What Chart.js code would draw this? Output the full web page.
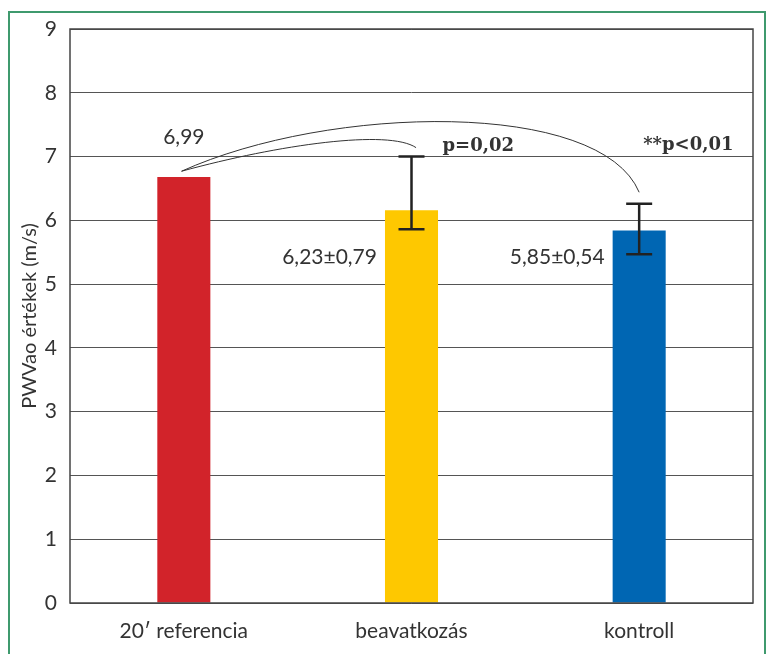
<!DOCTYPE html>
<html>
<head>
<meta charset="utf-8">
<script src="https://cdn.jsdelivr.net/npm/chart.js@4"></script>
<style>
  html, body { margin: 0; padding: 0; background: #fff; }
  #wrap { width: 767px; height: 654px; }
</style>
</head>
<body>
<div id="wrap"><canvas id="pwvChart" width="767" height="654"></canvas></div>
<script>
// chart data
const categories = ['20\u2032 referencia', 'beavatkozás', 'kontroll'];
const barValues = [6.68, 6.16, 5.84];
const barColors = ['#d2232a', '#fec800', '#0066b3'];
const errLow = [null, 5.86, 5.47];
const errHigh = [null, 7.0, 6.26];
const valueLabels = ['6,99', '6,23±0,79', '5,85±0,54'];
const pLabels = [null, 'p=0,02', '**p<0,01'];
const yTicks = [0, 1, 2, 3, 4, 5, 6, 7, 8, 9];

const TEXT = '#333';

// frame + plot border
const framePlugin = {
    id: 'frame',
    beforeDraw(chart) {
        const c = chart.ctx;
        c.save();
        c.strokeStyle = '#3f9a6e';
        c.lineWidth = 2;
        c.strokeRect(9, 12, 756, 660);
        c.restore();
    },
    afterDatasetsDraw(chart) {
        const c = chart.ctx;
        const a = chart.chartArea;
        c.save();
        c.strokeStyle = '#444';
        c.lineWidth = 1.5;
        c.strokeRect(a.left, a.top, a.right - a.left, a.bottom - a.top);
        c.restore();
    }
};

// error bars, curves and text annotations
const annotPlugin = {
    id: 'annot',
    afterDatasetsDraw(chart) {
        const c = chart.ctx;
        const xs = chart.scales.x;
        const ys = chart.scales.y;
        const meta = chart.getDatasetMeta(0);
        const step = xs.getPixelForValue(1) - xs.getPixelForValue(0);
        const px = v => xs.getPixelForValue(0) + v * step;
        const py = v => ys.getPixelForValue(v);

        c.save();
        // error bars
        c.strokeStyle = '#222';
        c.lineWidth = 2.5;
        for (let i = 0; i < barValues.length; i++) {
            if (errLow[i] == null) continue;
            const x = meta.data[i].x;
            const y1 = py(errHigh[i]);
            const y2 = py(errLow[i]);
            c.beginPath();
            c.moveTo(x, y1); c.lineTo(x, y2);
            c.moveTo(x - 13, y1); c.lineTo(x + 13, y1);
            c.moveTo(x - 13, y2); c.lineTo(x + 13, y2);
            c.stroke();
        }

        // connecting curves (category units, value units)
        c.strokeStyle = '#333';
        c.lineWidth = 1;
        c.beginPath();
        c.moveTo(px(-0.01), py(6.77));
        c.bezierCurveTo(px(0.42), py(7.19), px(0.9), py(7.43), px(1.02), py(7.14));
        c.stroke();
        c.beginPath();
        c.moveTo(px(-0.01), py(6.77));
        c.bezierCurveTo(px(0.64), py(7.82), px(1.83), py(7.9), px(2.0), py(6.44));
        c.stroke();

        // value labels
        c.fillStyle = TEXT;
        c.font = '21px Lato';
        c.textBaseline = 'middle';
        c.textAlign = 'center';
        c.fillText(valueLabels[0], meta.data[0].x, py(7.3));
        c.textAlign = 'right';
        for (let i = 1; i < 3; i++) {
            const bar = meta.data[i];
            c.fillText(valueLabels[i], bar.x - bar.width / 2 - 8, py(5.42));
        }

        // p labels
        c.font = 'bold 18px "DejaVu Serif"';
        c.textAlign = 'left';
        c.fillText(pLabels[1], meta.data[1].x + 31, py(7.16));
        c.fillText(pLabels[2], meta.data[2].x + 4, py(7.17));
        c.restore();
    }
};

const ctx = document.getElementById('pwvChart').getContext('2d');
const chart = new Chart(ctx, {
    type: 'bar',
    data: {
        labels: categories,
        datasets: [{
            data: barValues,
            backgroundColor: barColors,
            borderWidth: 0,
            barPercentage: 0.233,
            categoryPercentage: 1
        }]
    },
    options: {
        responsive: false,
        animation: false,
        events: [],
        layout: { padding: { left: 0, right: 14, top: 29, bottom: 0 } },
        plugins: {
            legend: { display: false },
            tooltip: { enabled: false }
        },
        scales: {
            x: {
                grid: { display: false, drawTicks: false },
                border: { display: false },
                ticks: {
                    color: TEXT,
                    font: { family: 'Lato', size: 21 },
                    padding: 16
                },
                afterFit(scale) { scale.height = 51; }
            },
            y: {
                min: 0,
                max: 9,
                afterBuildTicks(scale) { scale.ticks = yTicks.map(v => ({ value: v })); },
                grid: { color: '#555', lineWidth: 1, drawTicks: false },
                border: { display: false },
                ticks: {
                    color: TEXT,
                    font: { family: 'Lato', size: 21 },
                    padding: 13
                },
                title: {
                    display: true,
                    text: 'PWVao értékek (m/s)',
                    color: TEXT,
                    font: { family: 'Lato', size: 20 },
                    padding: { top: 18, bottom: 0 }
                },
                afterFit(scale) { scale.width = 70; }
            }
        }
    },
    plugins: [framePlugin, annotPlugin]
});
</script>
</body>
</html>
